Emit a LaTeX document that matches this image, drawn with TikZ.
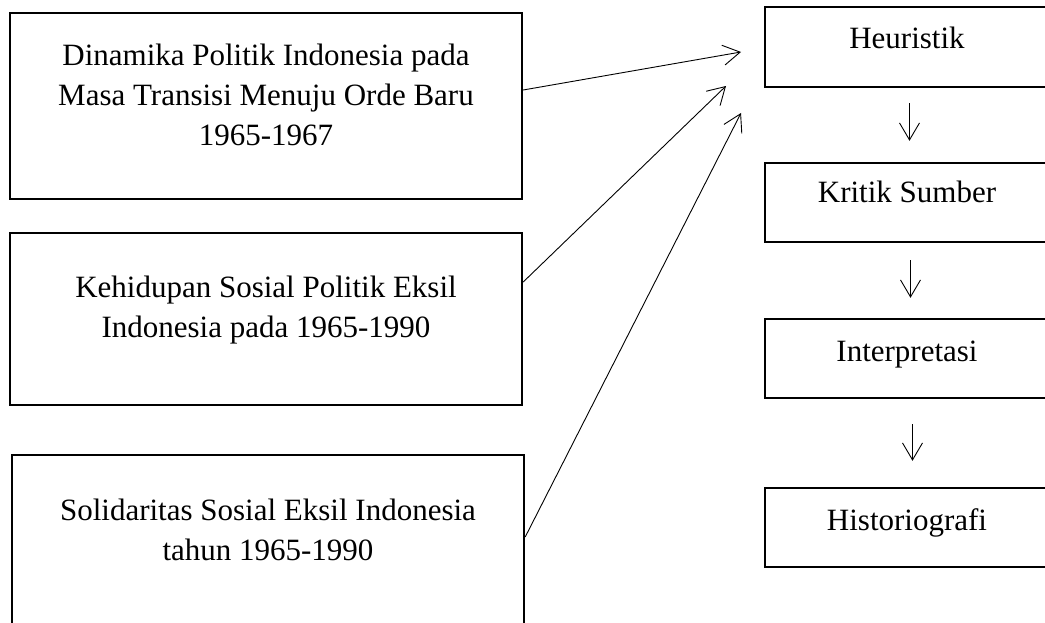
\documentclass[tikz,border=0pt]{standalone}
\usepackage{fontspec}
\setmainfont{Liberation Serif}
\usetikzlibrary{arrows.meta}
\begin{document}
\begin{tikzpicture}[x=1pt,y=-1pt,
  box/.style={draw=black, line width=2.4pt, inner sep=0pt},
  txt/.style={font=\fontsize{31}{40}\selectfont, align=center, inner sep=0pt},
  arr/.style={line width=0.9pt, -{Straight Barb[length=17pt,width=20pt,line width=0.9pt]}}
]
\useasboundingbox (0,0) rectangle (1045,623);
% left boxes
\node[box, minimum width=512pt, minimum height=186pt] (b1) at (266,106) {};
\node[box, minimum width=512pt, minimum height=172pt] (b2) at (266,319) {};
\node[box, minimum width=512pt, minimum height=172pt] (b3) at (268,541) {};
\node[txt, anchor=center] (t1) at (266,94.5) {Dinamika Politik Indonesia pada\\Masa Transisi Menuju Orde Baru\\1965-1967};
\node[txt, anchor=center] (t2) at (266,310.5) {Kehidupan Sosial Politik Eksil\\Indonesia pada 1965-1990};
\node[txt, anchor=center] (t3) at (268,529.5) {Solidaritas Sosial Eksil Indonesia\\tahun 1965-1990};
% right boxes
\node[box, minimum width=285pt, minimum height=80pt] (h1) at (907.5,47) {};
\node[box, minimum width=285pt, minimum height=79pt] (h2) at (907.5,202.5) {};
\node[box, minimum width=285pt, minimum height=79pt] (h3) at (907.5,358.5) {};
\node[box, minimum width=285pt, minimum height=79pt] (h4) at (907.5,527.5) {};
\node[txt, anchor=base] (r1) at (907,49) {Heuristik};
\node[txt, anchor=base] (r2) at (907,203) {Kritik Sumber};
\node[txt, anchor=base] (r3) at (907,361) {Interpretasi};
\node[txt, anchor=base] (r4) at (907,530) {Historiografi};
% free ends of the slanted arrows
\coordinate (e1) at (741,52);
\coordinate (e2) at (726,86);
\coordinate (e3) at (741,113);
\draw[arr] ([yshift=16pt]b1.east) -- (e1);
\draw[arr] ([yshift=37pt]b2.east) -- (e2);
\draw[arr] ([yshift=4pt]b3.east) -- (e3);
% down arrows
\draw[arr] ([xshift=2pt,yshift=-15pt]h1.south) -- ([xshift=2pt,yshift=21pt]h2.north);
\draw[arr] ([xshift=3pt,yshift=-17pt]h2.south) -- ([xshift=3pt,yshift=20pt]h3.north);
\draw[arr] ([xshift=5pt,yshift=-25pt]h3.south) -- ([xshift=5pt,yshift=26pt]h4.north);
\end{tikzpicture}
\end{document}
